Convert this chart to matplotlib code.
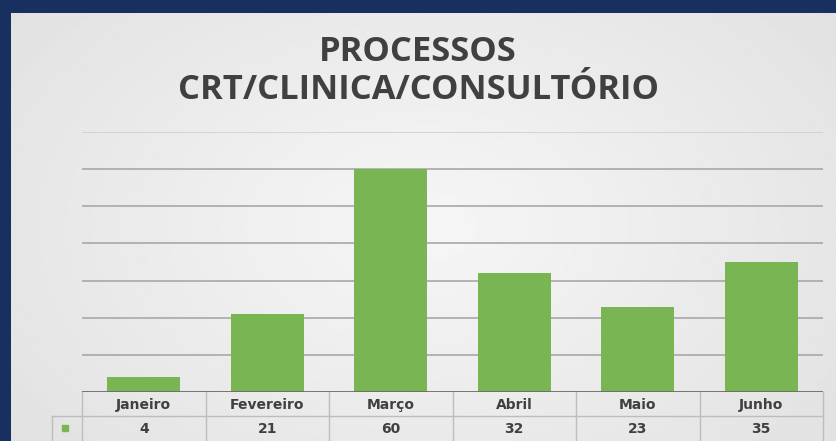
import numpy as np
import matplotlib
matplotlib.use('Agg')
import matplotlib.pyplot as plt
import matplotlib.transforms as mtransforms

months = ['Janeiro', 'Fevereiro', 'Março', 'Abril', 'Maio', 'Junho']
processos = [4, 21, 60, 32, 23, 35]
title = 'PROCESSOS\nCRT/CLINICA/CONSULTÓRIO'

navy = '#17305f'
green = '#7ab553'
text_gray = '#404040'

fig = plt.figure(figsize=(8.36, 4.41), dpi=100)
fig.patch.set_facecolor(navy)

# light gray panel with soft gradient
bg = fig.add_axes([11/836, 0, 1 - 11/836, 1 - 13/441])
bg.set_axis_off()
yy, xx = np.mgrid[-1:1:200j, -1:1:400j]
r = np.sqrt((xx * 0.9) ** 2 + (yy * 0.7) ** 2)
grad = 0.965 - 0.07 * np.clip(r, 0, 1.3)
bg.imshow(grad, cmap='gray', vmin=0, vmax=1, aspect='auto', extent=[0, 1, 0, 1])

fig.text(0.5, 1 - 71/441, title, ha='center', va='center', fontsize=24.8,
         fontweight='bold', color=text_gray, family='Open Sans', linespacing=1.15)

ax = fig.add_axes([82/836, 1 - 392/441, (823 - 82)/836, (392 - 132)/441])
ax.patch.set_alpha(0)
x = np.arange(len(months))
ax.bar(x, processos, width=0.59, color=green, zorder=3)
ax.set_xlim(-0.5, len(months) - 0.5)
ax.set_ylim(0, 70)
for v in range(10, 71, 10):
    ax.axhline(v, color='#a8a8a8' if v < 70 else '#cfcfcf', lw=1.2, zorder=1)
ax.axhline(0, color='#6a6a6a', lw=2, zorder=4)
for s in ax.spines.values():
    s.set_visible(False)
ax.set_xticks([])
ax.set_yticks([])

# data table below the axis
px = 1 / 260  # one pixel in axes height units
tr = mtransforms.blended_transform_factory(ax.transData, ax.transAxes)
line_kw = dict(color='#bdbdbd', lw=1, clip_on=False, transform=tr)
y_head = -17 * px
y_val = -41 * px
y_mid = -24 * px
y_bot = -50 * px
left_leg = -0.5 - 30 / 123.5
ax.plot([left_leg, len(months) - 0.5], [y_mid, y_mid], **line_kw)
for b in np.arange(-0.5, len(months), 1.0):
    ax.plot([b, b], [0, y_bot], **line_kw)
ax.plot([left_leg, left_leg], [y_mid, y_bot], **line_kw)
txt_kw = dict(transform=tr, ha='center', va='baseline', fontsize=10,
              fontweight='bold', color=text_gray, family='DejaVu Sans')
for i, (m, v) in enumerate(zip(months, processos)):
    ax.text(i, y_head, m, **txt_kw)
    ax.text(i, y_val, str(v), **txt_kw)
ax.plot([-0.5 - 17 / 123.5], [-36 * px], marker='s', ms=5, color=green,
        transform=tr, clip_on=False)

fig.savefig('out.png', dpi=100, facecolor=fig.get_facecolor())
